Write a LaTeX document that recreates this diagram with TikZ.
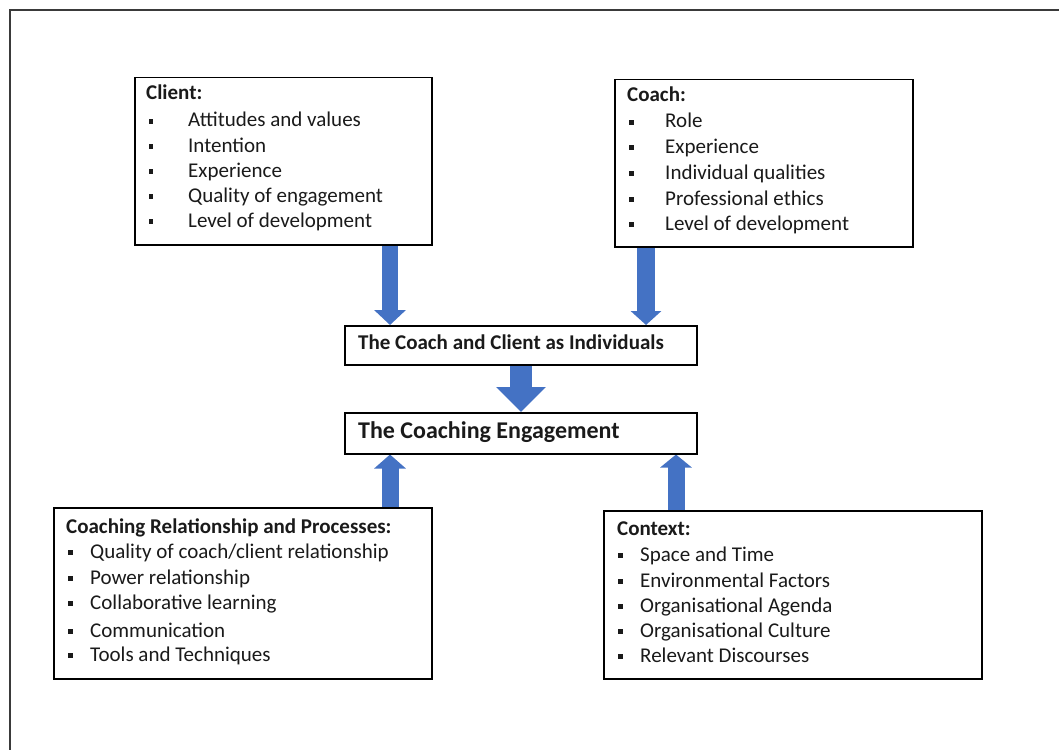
\documentclass[tikz,border=0pt]{standalone}
\usepackage{fontspec}
\setmainfont{Carlito}
\usetikzlibrary{arrows.meta}
\definecolor{arrowblue}{HTML}{4472C4}
\definecolor{inkcol}{HTML}{1A1A1A}
\definecolor{framecol}{HTML}{3A3A3A}
\pgfdeclarelayer{background}
\pgfsetlayers{background,main}
% square bullet followed by the item text, the text starting #1 pt after the bullet
\newcommand\sqitem[2]{\makebox[#1pt][l]{\raisebox{3.4pt}{\rule{4.6pt}{4.6pt}}}#2}
\tikzset{
  boxnode/.style={draw=black, line width=1.5pt, fill=white, rectangle,
    inner sep=0pt, anchor=north west},
  txt/.style={anchor=base west, inner sep=0pt, text=inkcol,
    font=\fontsize{21}{25}\selectfont},
  ttl/.style={txt, font=\fontsize{21}{25}\selectfont\bfseries},
  bigttl/.style={txt, font=\fontsize{24}{28}\selectfont\bfseries},
  blockarrow/.style={draw=arrowblue, line width=#1},
}
\begin{document}
\begin{tikzpicture}[x=1pt,y=-1pt]
\path[use as bounding box] (0,0) rectangle (1059,749);
\clip (0,0) rectangle (1059,749);
\draw[framecol, line width=2pt] (10,10) rectangle (1080,770);

% boxes
\node[boxnode, minimum width=297pt, minimum height=167pt] (client) at (134,77) {};
\node[boxnode, minimum width=298pt, minimum height=167pt] (coach) at (614,79) {};
\node[boxnode, minimum width=352pt, minimum height=39pt] (indiv) at (344,325) {};
\node[boxnode, minimum width=352pt, minimum height=41pt] (engage) at (344,412) {};
\node[boxnode, minimum width=378pt, minimum height=171pt] (relat) at (53,507) {};
\node[boxnode, minimum width=378pt, minimum height=168pt] (context) at (603,510) {};

% block arrows between the boxes
\coordinate (xa) at (390,0);
\coordinate (xb) at (646,0);
\coordinate (xc) at (521,0);
\coordinate (xd) at (390,0);
\coordinate (xe) at (676,0);
\begin{pgfonlayer}{background}
\draw[blockarrow=16pt, -{Triangle[length=15pt,width=31pt]}]
  (client.south -| xa) -- (indiv.north -| xa);
\draw[blockarrow=18pt, -{Triangle[length=14pt,width=30pt]}]
  (coach.south -| xb) -- (indiv.north -| xb);
\draw[blockarrow=22pt, -{Triangle[length=25pt,width=48pt]}]
  (indiv.south -| xc) -- (engage.north -| xc);
\draw[blockarrow=17pt, -{Triangle[length=14pt,width=31pt]}]
  (relat.north -| xd) -- (engage.south -| xd);
\draw[blockarrow=17pt, -{Triangle[length=13pt,width=31pt]}]
  (context.north -| xe) -- (engage.south -| xe);
\end{pgfonlayer}

% client
\node[ttl] (cl0) at (146,100) {Client:};
\node[txt] (cl1) at (148.5,127) {\sqitem{39.5}{Attitudes and values}};
\node[txt] (cl2) at (148.5,152) {\sqitem{39.5}{Intention}};
\node[txt] (cl3) at (148.5,177) {\sqitem{39.5}{Experience}};
\node[txt] (cl4) at (148.5,202) {\sqitem{39.5}{Quality of engagement}};
\node[txt] (cl5) at (148.5,227) {\sqitem{39.5}{Level of development}};

% coach
\node[ttl] (co0) at (627,102) {Coach:};
\node[txt] (co1) at (629,128) {\sqitem{36}{Role}};
\node[txt] (co2) at (629,153) {\sqitem{36}{Experience}};
\node[txt] (co3) at (629,179) {\sqitem{36}{Individual qualities}};
\node[txt] (co4) at (629,205) {\sqitem{36}{Professional ethics}};
\node[txt] (co5) at (629,230) {\sqitem{36}{Level of development}};

% middle boxes
\node[ttl] (indivtext) at (358,349) {The Coach and Client as Individuals};
\node[bigttl] (engagetext) at (358,438) {The Coaching Engagement};

% coaching relationship
\node[ttl] (re0) at (66,533) {Coaching Relationship and Processes:};
\node[txt] (re1) at (68,558) {\sqitem{22}{Quality of coach/client relationship}};
\node[txt] (re2) at (68,584) {\sqitem{22}{Power relationship}};
\node[txt] (re3) at (68,609) {\sqitem{22}{Collaborative learning}};
\node[txt] (re4) at (68,637) {\sqitem{22}{Communication}};
\node[txt] (re5) at (68,661) {\sqitem{22}{Tools and Techniques}};

% context
\node[ttl] (cx0) at (617,535) {Context:};
\node[txt] (cx1) at (618,561) {\sqitem{22}{Space and Time}};
\node[txt] (cx2) at (618,587) {\sqitem{22}{Environmental Factors}};
\node[txt] (cx3) at (618,612) {\sqitem{22}{Organisational Agenda}};
\node[txt] (cx4) at (618,637) {\sqitem{22}{Organisational Culture}};
\node[txt] (cx5) at (618,662) {\sqitem{22}{Relevant Discourses}};
\end{tikzpicture}
\end{document}
